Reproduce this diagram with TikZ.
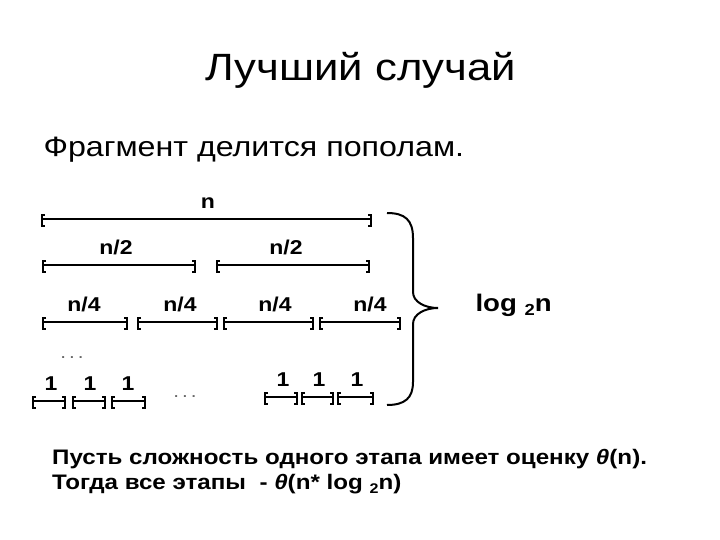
\documentclass[tikz,border=0pt]{standalone}
\usepackage{fontspec}
\setmainfont[FakeStretch=1.15]{Liberation Sans}
\usetikzlibrary{positioning, calc}

% one piece of the array: bracket, line, bracket
\newcommand{\piece}[3]{%
  \draw[brk] (#1+3,#3-4) -- (#1,#3-4) -- (#1,#3+7) -- (#1+3,#3+7);
  \draw[brk] (#2-3,#3-4) -- (#2,#3-4) -- (#2,#3+7) -- (#2-3,#3+7);
  \draw[segline] (#1,#3) -- (#2,#3);}

\begin{document}
\begin{tikzpicture}[
  x=1pt, y=-1pt,
  segline/.style={line width=1.6pt},
  brk/.style={line width=2.2pt},
  lab/.style={font=\fontsize{20}{22}\selectfont\bfseries, inner sep=1pt},
  dots/.style={font=\fontsize{18}{20}\selectfont, text=black!60, inner sep=0pt},
]
\useasboundingbox (0,0) rectangle (720,540);

% ── heading ──────────────────────────────────────────────────────────────────
\node[font=\fontsize{38}{42}\selectfont] (title) at (361,70) {Лучший случай};
\node[font=\fontsize{28}{32}\selectfont, anchor=west] (intro) at (40,150)
  {Фрагмент делится пополам.};

% ── levels of the split ──────────────────────────────────────────────────────
\piece{42}{371}{219}
\node[lab] (n1) at (208,203) {n};

\piece{43}{195}{265}
\piece{217}{369}{265}
\node[lab] (h1) at (116,247) {n/2};
\node[lab] (h2) at (286,247) {n/2};

\foreach \a/\b/\m [count=\i] in {43/127/84, 138/217/180, 224/313/275, 320/400/370}{
  \piece{\a}{\b}{322}
  \node[lab] (q\i) at (\m,304) {n/4};
}

\node[dots] (vd) at (72,358) {.\,.\,.};

\foreach \a/\b/\m [count=\i] in {33/65/51, 73/105/90, 112/145/128}{
  \piece{\a}{\b}{401}
  \node[lab] (ul\i) at (\m,384) {1};
}
\node[dots] (hd) at (185,397) {.\,.\,.};
\foreach \a/\b/\m [count=\i] in {265/297/283, 302/333/319, 338/373/357}{
  \piece{\a}{\b}{397}
  \node[lab] (ur\i) at (\m,380) {1};
}

% ── brace and depth ──────────────────────────────────────────────────────────
\coordinate (btop) at (387,213);
\coordinate (btip) at (438,308);
\coordinate (bbot) at (387,405);
\draw[line width=2pt] (btop) .. controls (405,213) and (413,220) .. (413,238)
  -- (413,292) .. controls (413,302) and (425,308) .. (btip)
  .. controls (425,308) and (413,314) .. (413,324)
  -- (413,382) .. controls (413,398) and (405,405) .. (bbot);
\node[font=\fontsize{24}{26}\selectfont\bfseries, anchor=west] (depth) at (472,305)
  {log \raisebox{-0.35ex}{\fontsize{16}{17}\selectfont 2}n};

% ── cost ─────────────────────────────────────────────────────────────────────
\node[font=\fontsize{21}{25}\selectfont\bfseries, anchor=north west, align=left,
      inner sep=0pt] (cost) at (52,449)
  {Пусть сложность одного этапа имеет оценку \textit{θ}(n).\\
   Тогда все этапы \ - \textit{θ}(n* log \raisebox{-0.35ex}{\fontsize{14}{15}\selectfont 2}n)};

\end{tikzpicture}
\end{document}
